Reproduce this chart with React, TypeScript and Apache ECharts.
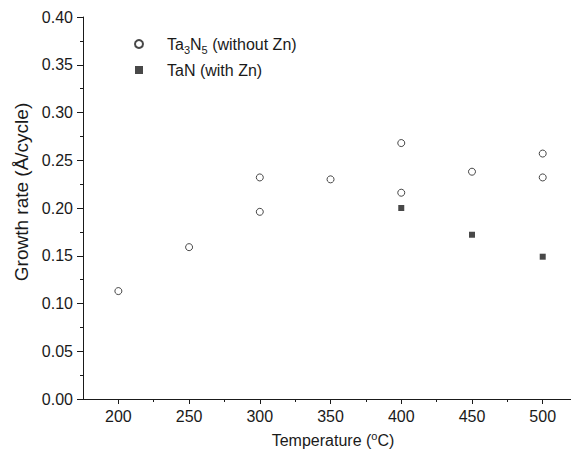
import React, { useEffect, useRef } from "react";
import * as echarts from "echarts";

const ta3n5Temps = [200, 250, 300, 300, 350, 400, 400, 450, 500, 500];
const ta3n5Rates = [0.113, 0.159, 0.232, 0.196, 0.23, 0.268, 0.216, 0.238, 0.257, 0.232];
const tanTemps = [400, 450, 500];
const tanRates = [0.2, 0.172, 0.149];
const xMajorTicks = [200, 250, 300, 350, 400, 450, 500];
const xMinorTicks = [225, 275, 325, 375, 425, 475];
const seriesNames = ["Ta3N5 (without Zn)", "TaN (with Zn)"];

const FONT = "'Liberation Sans', Arial, Helvetica, sans-serif";
const INK = "#1a1a1a";

export default function App() {
  const ref = useRef<HTMLDivElement>(null);
  useEffect(() => {
    if (!ref.current) return;
    const chart = echarts.init(ref.current, undefined, { renderer: "svg" });
    const common = { min: 175, max: 520, type: "value" as const, splitLine: { show: false } };
    chart.setOption({
      animation: false,
      backgroundColor: "#fff",
      textStyle: { fontFamily: FONT, color: INK },
      grid: { left: 83, right: 0, top: 17, bottom: 57 },
      legend: {
        orient: "vertical",
        left: 134,
        top: 36,
        padding: 0,
        itemWidth: 8,
        itemHeight: 8,
        itemGap: 7,
        data: [
          { name: seriesNames[0], icon: "circle" },
          { name: seriesNames[1], icon: "rect" },
        ],
        formatter: (name: string) =>
          name === seriesNames[0] ? "{a|Ta}{s|3}{a|N}{s|5}{a| (without Zn)}" : "{a|" + name + "}",
        textStyle: {
          fontFamily: FONT,
          color: INK,
          padding: [0, 0, 0, 19],
          rich: {
            a: { fontSize: 16, fontFamily: FONT, color: INK },
            s: { fontSize: 11, fontFamily: FONT, color: INK, padding: [11, 0, 0, 0] },
          },
        },
      },
      xAxis: [
        {
          ...common,
          position: "bottom",
          axisLine: { show: true, onZero: false, lineStyle: { color: INK, width: 1 } },
          axisTick: { show: true, inside: false, length: 5, customValues: xMajorTicks, lineStyle: { color: INK } },
          axisLabel: { customValues: xMajorTicks, fontSize: 16, color: INK, fontFamily: FONT, margin: 9 },
        },
        {
          ...common,
          position: "bottom",
          axisLine: { show: false, onZero: false },
          axisTick: { show: true, inside: false, length: 3, customValues: xMinorTicks, lineStyle: { color: INK } },
          axisLabel: { show: false },
        },
      ],
      yAxis: {
        type: "value",
        min: 0,
        max: 0.4,
        interval: 0.05,
        splitLine: { show: false },
        axisLine: { show: true, lineStyle: { color: INK, width: 1 } },
        axisTick: { show: true, inside: false, length: 6, lineStyle: { color: INK } },
        minorTick: { show: true, splitNumber: 2, length: 3, lineStyle: { color: INK } },
        axisLabel: {
          fontSize: 16,
          color: INK,
          fontFamily: FONT,
          margin: 10,
          formatter: (v: number) => v.toFixed(2),
        },
      },
      graphic: [
        {
          type: "text",
          x: 333,
          y: 440,
          style: {
            text: "{a|Temperature (}{s|o}{a|C)}",
            align: "center",
            verticalAlign: "middle",
            rich: {
              a: { fontSize: 16, fontFamily: FONT, fill: INK },
              s: { fontSize: 11, fontFamily: FONT, fill: INK, padding: [0, 0, 9, 0] },
            },
          },
        },
        {
          type: "text",
          x: 21,
          y: 192,
          rotation: Math.PI / 2,
          style: {
            text: "Growth rate (Å/cycle)",
            align: "center",
            verticalAlign: "middle",
            fontSize: 19,
            fontFamily: FONT,
            fill: INK,
          },
        },
      ],
      series: [
        {
          name: seriesNames[0],
          type: "scatter",
          symbol: "circle",
          symbolSize: 7,
          itemStyle: { color: "#fff", borderColor: INK, borderWidth: 1 },
          data: ta3n5Temps.map((t, i) => [t, ta3n5Rates[i]]),
        },
        {
          name: seriesNames[1],
          type: "scatter",
          symbol: "rect",
          symbolSize: 6,
          itemStyle: { color: INK, borderColor: INK, borderWidth: 0 },
          data: tanTemps.map((t, i) => [t, tanRates[i]]),
        },
      ],
    });
    return () => chart.dispose();
  }, []);
  return <div ref={ref} style={{ width: 571, height: 456, position: "absolute", left: 0, top: 0 }} />;
}
